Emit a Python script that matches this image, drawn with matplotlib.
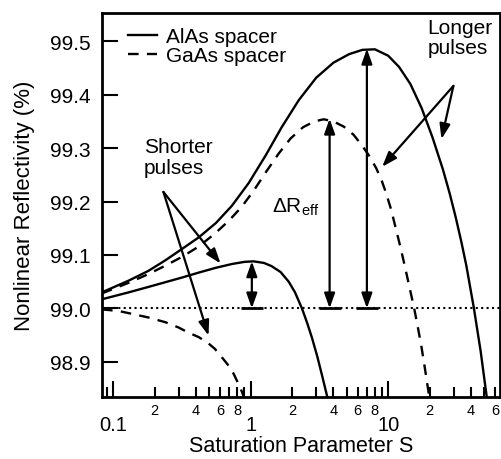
import numpy as np
import matplotlib
matplotlib.use("Agg")
import matplotlib.pyplot as plt
from matplotlib.ticker import FixedLocator, FixedFormatter

plt.rcParams["font.family"] = ["Liberation Sans", "DejaVu Sans"]
plt.rcParams["mathtext.fontset"] = "custom"
plt.rcParams["mathtext.rm"] = "Liberation Sans"

# curves (S, reflectivity in %)
alas_long_s = [0.083, 0.13, 0.18, 0.24, 0.32, 0.42, 0.56, 0.73, 0.97, 1.29, 1.68, 2.24,
               3.0, 4.0, 5.2, 6.5, 8.0, 10.0, 12.0, 14.5, 17.5, 21.0, 25.0, 28.0,
               31.0, 34.0, 37.0, 42.0, 47.0, 52.0, 55.0]
alas_long_r = [99.03, 99.052, 99.07, 99.09, 99.112, 99.133, 99.16, 99.192, 99.235, 99.287,
               99.339, 99.39, 99.432, 99.46, 99.476, 99.484, 99.485, 99.473, 99.452,
               99.42, 99.375, 99.32, 99.26, 99.215, 99.17, 99.125, 99.08, 99.0, 98.92,
               98.835, 98.79]

gaas_long_s = [0.083, 0.13, 0.18, 0.24, 0.32, 0.42, 0.55, 0.7, 0.86, 1.05, 1.29, 1.6,
               1.95, 2.4, 2.9, 3.4, 4.0, 4.77, 5.6, 6.45, 7.3, 8.2, 9.0, 9.65, 10.5,
               11.4, 12.4, 13.5, 14.5, 15.5, 16.5, 17.4, 18.3, 19.2, 20.0]
gaas_long_r = [99.028, 99.048, 99.064, 99.08, 99.097, 99.116, 99.14, 99.165, 99.19,
               99.22, 99.255, 99.29, 99.318, 99.339, 99.35, 99.354, 99.35, 99.34,
               99.325, 99.305, 99.285, 99.262, 99.238, 99.216, 99.185, 99.148, 99.11,
               99.068, 99.032, 98.998, 98.962, 98.93, 98.895, 98.86, 98.83]

alas_short_s = [0.083, 0.13, 0.18, 0.24, 0.32, 0.42, 0.56, 0.73, 0.9, 1.05, 1.25, 1.42,
                1.65, 1.89, 2.1, 2.36, 2.58, 2.79, 3.05, 3.3, 3.6, 3.9]
alas_short_r = [99.017, 99.03, 99.04, 99.049, 99.058, 99.067, 99.076, 99.083, 99.087,
                99.088, 99.085, 99.079, 99.068, 99.05, 99.03, 99.0, 98.972, 98.945,
                98.91, 98.875, 98.835, 98.795]

gaas_short_s = [0.083, 0.11, 0.135, 0.18, 0.24, 0.3, 0.35, 0.42, 0.49, 0.55, 0.61,
                0.68, 0.75, 0.81, 0.86, 0.92]
gaas_short_r = [98.998, 98.995, 98.99, 98.983, 98.974, 98.964, 98.955, 98.946, 98.935,
                98.924, 98.91, 98.895, 98.878, 98.86, 98.845, 98.825]

# delta R_eff arrows: S position, top value
dr_s = [1.02, 3.75, 7.0]
dr_top = [99.088, 99.355, 99.486]
R0 = 99.0

major_ticks = [0.1, 1, 10]
major_labels = ["0.1", "1", "10"]
minor_ticks = [0.09, 0.2, 0.3, 0.4, 0.5, 0.6, 0.7, 0.8, 0.9,
               2, 3, 4, 5, 6, 7, 8, 9, 20, 30, 40, 50, 60]
minor_labels = ["", "2", "", "4", "", "6", "", "8", "",
                "2", "", "4", "", "6", "", "8", "", "2", "", "4", "", "6"]
y_ticks = [98.9, 99.0, 99.1, 99.2, 99.3, 99.4, 99.5]

fig = plt.figure(figsize=(5.02, 4.6), dpi=100)
ax = fig.add_axes([102 / 502, 62 / 460, 398 / 502, 384 / 460])

lw = 1.7
dash = (4.5, 3.5)
ax.axhline(R0, color="k", ls=(0, (1, 1.6)), lw=1.5, zorder=1)
ax.plot(alas_long_s, alas_long_r, color="k", lw=lw, label="AlAs spacer")
ax.plot(gaas_long_s, gaas_long_r, color="k", lw=lw, dashes=dash, label="GaAs spacer")
ax.plot(alas_short_s, alas_short_r, color="k", lw=lw)
ax.plot(gaas_short_s, gaas_short_r, color="k", lw=lw, dashes=dash)

head = "<|-|>,head_length=0.45,head_width=0.16"
for s, top in zip(dr_s, dr_top):
    ax.annotate("", xy=(s, top), xytext=(s, R0),
                arrowprops=dict(arrowstyle=head, lw=1.6, color="k",
                                mutation_scale=20, shrinkA=0, shrinkB=0))
    ax.plot([s / 1.2, s * 1.2], [R0, R0], color="k", lw=2, solid_capstyle="butt")

# pointer arrows
one = "-|>,head_length=0.45,head_width=0.16"
for tgt in [(0.604, 99.084), (0.494, 98.949)]:
    ax.annotate("", xy=tgt, xytext=(0.232, 99.218),
                arrowprops=dict(arrowstyle=one, lw=1.6, color="k",
                                mutation_scale=20, shrinkA=0, shrinkB=0))
for tgt in [(24.4, 99.317), (9.04, 99.265)]:
    ax.annotate("", xy=tgt, xytext=(29.8, 99.4165),
                arrowprops=dict(arrowstyle=one, lw=1.6, color="k",
                                mutation_scale=20, shrinkA=0, shrinkB=0))

ax.text(0.168, 99.32, "Shorter\npulses", fontsize=15, ha="left", va="top",
        linespacing=1.1)
ax.text(19.3, 99.544, "Longer\npulses", fontsize=15, ha="left", va="top",
        linespacing=1.1)
ax.text(1.42, 99.182, r"$\Delta$R$_{\mathrm{eff}}$", fontsize=15, ha="left",
        va="baseline")

ax.set_xscale("log")
ax.set_xlim(0.083, 65)
ax.set_ylim(98.834, 99.553)

ax.xaxis.set_major_locator(FixedLocator(major_ticks))
ax.xaxis.set_major_formatter(FixedFormatter(major_labels))
ax.xaxis.set_minor_locator(FixedLocator(minor_ticks))
ax.xaxis.set_minor_formatter(FixedFormatter(minor_labels))
ax.set_yticks(y_ticks)
ax.set_yticklabels([f"{v:.1f}" for v in y_ticks])

ax.tick_params(axis="x", which="major", direction="in", length=11.5, width=1.5,
               labelsize=14.5, pad=13)
ax.tick_params(axis="x", which="minor", direction="in", length=7, width=1.5,
               labelsize=10.5, pad=4)
ax.tick_params(axis="y", which="major", direction="in", length=11.5, width=1.5,
               labelsize=15, pad=8)
ax.tick_params(axis="y", which="minor", left=False)
for sp in ax.spines.values():
    sp.set_linewidth(2)

ax.set_xlabel("Saturation Parameter S", fontsize=15.5, labelpad=1)
ax.set_ylabel("Nonlinear Reflectivity (%)", fontsize=16, labelpad=11)

ax.legend(loc="upper left", bbox_to_anchor=(0.065, 0.9635), frameon=False,
          fontsize=15, handlelength=1.4, handletextpad=0.43, labelspacing=0.0,
          borderpad=0, borderaxespad=0)

fig.savefig("out.png", dpi=100)
